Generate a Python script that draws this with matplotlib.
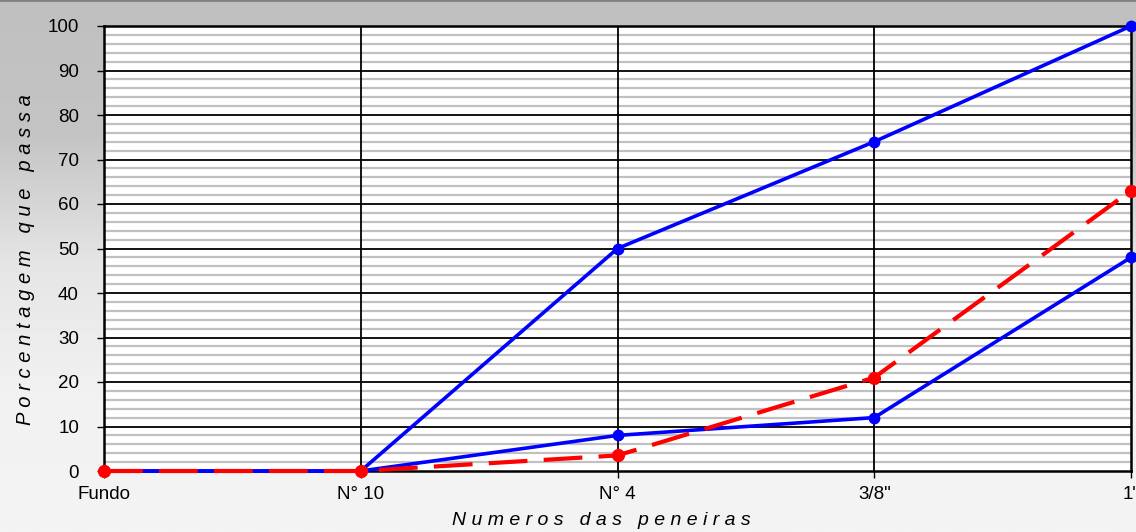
import matplotlib.pyplot as plt
import numpy as np
from matplotlib.colors import LinearSegmentedColormap

plt.rcParams['font.family'] = ['Liberation Sans', 'DejaVu Sans']

peneiras = ["Fundo", "N° 10", "N° 4", "3/8\"", "1\""]
limite_sup = [0, 0, 50, 74, 100]
limite_inf = [0, 0, 8, 12, 48]
amostra = [0, 0, 3.5, 21, 63]

fig = plt.figure(figsize=(11.36, 5.32), dpi=100)

# gray gradient background
bg = fig.add_axes([0, 0, 1, 1], zorder=-10)
grad = np.linspace(0, 1, 256).reshape(-1, 1)
cmap = LinearSegmentedColormap.from_list("bg", ["#c0c0c0", "#c4c4c4", "#e6e6e6", "#f2f2f2", "#f4f4f4"])
bg.imshow(grad, aspect='auto', cmap=cmap, extent=[0, 1, 0, 1], origin='upper')
bg.axhline(1, color="#808080", lw=2)
bg.set_axis_off()

ax = fig.add_axes([104/1136, 61/532, 1027/1136, 445/532])
ax.set_facecolor("white")
x = np.arange(len(peneiras))

# grid
for v in np.arange(2, 100, 2):
    if v % 10:
        ax.axhline(v, color="#c0c0c0", lw=1.6, zorder=1)
for v in np.arange(10, 100, 10):
    ax.axhline(v, color="black", lw=1.3, zorder=2)
for xi in x[1:-1]:
    ax.axvline(xi, color="black", lw=1.3, zorder=2)

ax.plot(x, limite_sup, color="#0000ff", lw=2.6, marker="o", ms=7.5, zorder=4, clip_on=False)
ax.plot(x, limite_inf, color="#0000ff", lw=2.6, marker="o", ms=7.5, zorder=4, clip_on=False)
ax.plot(x, amostra, color="#ff0000", lw=3.0, marker="o", ms=8.5, zorder=5, clip_on=False,
        dashes=(9.3, 3.9))

ax.set_xlim(0, 4)
ax.set_ylim(0, 100)
ax.set_xticks(x)
ax.set_xticklabels(peneiras)
ax.set_yticks(np.arange(0, 101, 10))
ax.tick_params(axis='both', labelsize=13.5, direction='out', length=5, width=1,
               colors='black')
ax.tick_params(axis='x', pad=6)
ax.tick_params(axis='y', pad=13)
for s in ax.spines.values():
    s.set_linewidth(1.8)
    s.set_color("black")

ax.set_xlabel("N u m e r o s   d a s   p e n e i r a s", fontsize=14, style='italic')
ax.xaxis.set_label_coords(0.484, -0.092)
ax.set_ylabel("P o r c e n t a g e m   q u e   p a s s a", fontsize=14.5, style='italic', labelpad=9)
ax.yaxis.label.set_y(0.476)

fig.savefig("out.png", dpi=100)
